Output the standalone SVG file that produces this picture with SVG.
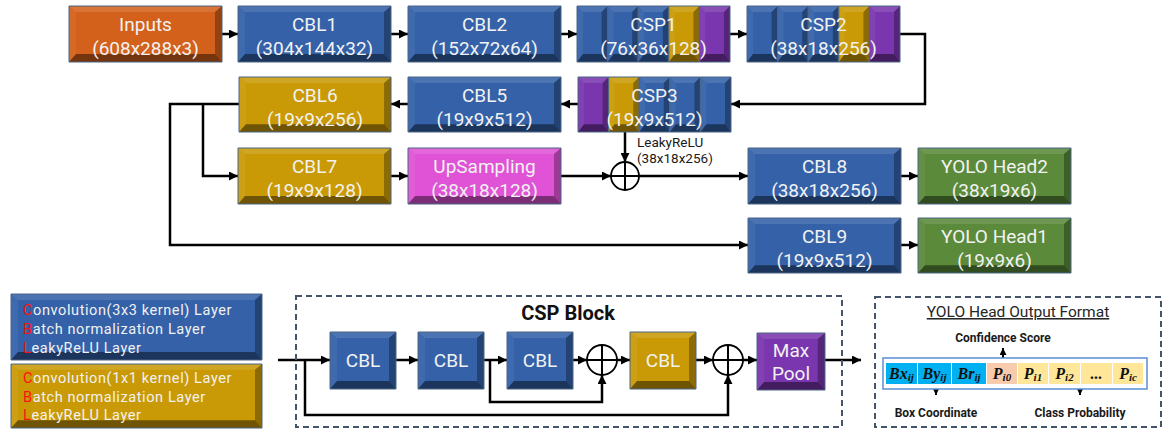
<svg xmlns="http://www.w3.org/2000/svg" width="1164" height="433" viewBox="0 0 1164 433">
<style>
.bt{fill:#fff;fill-opacity:.12}
.bl{fill:#fff;fill-opacity:.06}
.br{fill:#000;fill-opacity:.3}
.bb{fill:#000;fill-opacity:.45}
.bd{fill:none;stroke:#4a6584;stroke-width:1;vector-effect:non-scaling-stroke}
.t{font-family:Roboto,"Noto Sans",sans-serif;font-size:19px;fill:#f2f2f2;text-anchor:middle}
.lg{font-family:Roboto,"Noto Sans",sans-serif;font-size:14.5px;letter-spacing:0.6px;fill:#f2f2f2}
.r{fill:#ff1010}
.sm{font-family:Roboto,"Noto Sans",sans-serif;font-size:13.5px;fill:#1a1a1a}
.bd2{font-family:Roboto,"Noto Sans",sans-serif;font-weight:bold;font-size:12px;fill:#1a1a1a;text-anchor:middle}
.ttl{font-family:Roboto,"Noto Sans",sans-serif;font-weight:bold;font-size:20px;fill:#111;text-anchor:middle}
.yt{font-family:Roboto,"Noto Sans",sans-serif;font-size:15.5px;fill:#262626;text-anchor:middle;text-decoration:underline}
.ct{font-family:"Liberation Serif",serif;font-weight:bold;font-style:italic;font-size:16px;fill:#111;text-anchor:middle}
.cs{font-size:11px}
.ln{fill:none;stroke:#000;stroke-width:2.5}
.ln2{fill:none;stroke:#000;stroke-width:2}
.dash{fill:none;stroke:#44546a;stroke-width:2;stroke-dasharray:6 4}
.cir{fill:#fff;stroke:#000;stroke-width:1.8}
.B{fill:#3461a8}.G{fill:#c99a06}.O{fill:#d3611b}.M{fill:#e053d6}.N{fill:#5a8a3a}.P{fill:#7a36ae}
</style>
<defs>
<marker id="a" markerUnits="userSpaceOnUse" markerWidth="9" markerHeight="9" refX="9" refY="4.5" orient="auto"><path d="M0,0 L9,4.5 L0,9 z" fill="#000"/></marker>
<marker id="as" markerUnits="userSpaceOnUse" markerWidth="7" markerHeight="7" refX="7" refY="3.5" orient="auto"><path d="M0,0 L7,3.5 L0,7 z" fill="#000"/></marker>
<symbol id="bv" viewBox="0 0 153 56" preserveAspectRatio="none" style="overflow:visible">
<rect width="153" height="56"/>
<polygon class="bt" points="0,0 153,0 146,6 7,6"/>
<polygon class="bl" points="0,0 7,6 7,48 0,56"/>
<polygon class="br" points="153,0 153,56 146,48 146,6"/>
<polygon class="bb" points="0,56 7,48 146,48 153,56"/>
<rect class="bd" width="153" height="56"/>
</symbol>
<symbol id="sl" viewBox="0 0 30.6 56" preserveAspectRatio="none" style="overflow:visible">
<rect width="30.6" height="56"/>
<polygon class="bt" points="0,0 30.6,0 24.6,6 6,6"/>
<polygon class="bl" points="0,0 6,6 6,48 0,56"/>
<polygon class="br" points="30.6,0 30.6,56 24.6,48 24.6,6"/>
<polygon class="bb" points="0,56 6,48 24.6,48 30.6,56"/>
<rect class="bd" width="30.6" height="56"/>
</symbol>
<symbol id="bs" viewBox="0 0 66 57" preserveAspectRatio="none" style="overflow:visible">
<rect width="66" height="57"/>
<polygon class="bt" points="0,0 66,0 59,6 7,6"/>
<polygon class="bl" points="0,0 7,6 7,49 0,57"/>
<polygon class="br" points="66,0 66,57 59,49 59,6"/>
<polygon class="bb" points="0,57 7,49 59,49 66,57"/>
<rect class="bd" width="66" height="57"/>
</symbol>
<symbol id="bg" viewBox="0 0 251 66" preserveAspectRatio="none" style="overflow:visible">
<rect width="251" height="66"/>
<polygon class="bt" points="0,0 251,0 244,6 7,6"/>
<polygon class="bl" points="0,0 7,6 7,58 0,66"/>
<polygon class="br" points="251,0 251,66 244,58 244,6"/>
<polygon class="bb" points="0,66 7,58 244,58 251,66"/>
<rect class="bd" width="251" height="66"/>
</symbol>
</defs>
<rect width="1164" height="433" fill="#fff"/>

<g id="connectors">
<path class="ln" marker-end="url(#a)" d="M222,34 H238"/>
<path class="ln" marker-end="url(#a)" d="M391,34 H408"/>
<path class="ln" marker-end="url(#a)" d="M561,34 H577"/>
<path class="ln" marker-end="url(#a)" d="M730,34 H747"/>
<path class="ln" marker-end="url(#a)" d="M900,34 H925 V104 H731"/>
<path class="ln" marker-end="url(#a)" d="M578,104 H561"/>
<path class="ln" marker-end="url(#a)" d="M408,104 H391"/>
<path class="ln" marker-end="url(#a)" d="M239,104 H170 V245 H748"/>
<path class="ln" marker-end="url(#a)" d="M203,104 V176 H238"/>
<path class="ln" marker-end="url(#a)" d="M391,176 H408"/>
<path class="ln" marker-end="url(#a)" d="M561,176 H611"/>
<path class="ln" marker-end="url(#a)" d="M625,132 V162"/>
<path class="ln" marker-end="url(#a)" d="M639,176 H748"/>
<path class="ln" marker-end="url(#a)" d="M901,176 H918"/>
<path class="ln" marker-end="url(#a)" d="M901,245 H918"/>
<circle class="cir" cx="625" cy="176" r="14"/>
<path class="ln2" d="M611,176 H639 M625,162 V190" stroke-width="1.5"/>
<path class="ln" marker-end="url(#a)" d="M278,360 H330"/>
<path class="ln" marker-end="url(#a)" d="M396,360 H418"/>
<path class="ln" marker-end="url(#a)" d="M484,360 H507"/>
<path class="ln" marker-end="url(#a)" d="M573,360 H587"/>
<path class="ln" marker-end="url(#a)" d="M617,360 H630"/>
<path class="ln" marker-end="url(#a)" d="M696,360 H713"/>
<path class="ln" marker-end="url(#a)" d="M743,360 H757"/>
<path class="ln" marker-end="url(#a)" d="M825,360 H861"/>
<path class="ln" marker-end="url(#a)" d="M490,360 V402 H602 V375"/>
<path class="ln" marker-end="url(#a)" d="M305,360 V415 H728 V375"/>
<circle class="cir" cx="602" cy="360" r="15"/>
<path class="ln2" d="M587,360 H617 M602,345 V375" stroke-width="1.5"/>
<circle class="cir" cx="728" cy="360" r="15"/>
<path class="ln2" d="M713,360 H743 M728,345 V375" stroke-width="1.5"/>
<path class="ln2" marker-end="url(#as)" d="M1003,358 V348"/>
<path class="ln2" marker-end="url(#as)" d="M936,383 V395"/>
<path class="ln2" marker-end="url(#as)" d="M1080,383 V395"/>
</g>

<g id="inputs"><use href="#bv" x="69" y="6" width="153" height="56" class="O"/><text class="t" x="145.5" y="31">Inputs</text><text class="t" x="145.5" y="55">(608x288x3)</text></g>
<g id="cbl1"><use href="#bv" x="238" y="6" width="153" height="56" class="B"/><text class="t" x="314.5" y="31">CBL1</text><text class="t" x="314.5" y="55">(304x144x32)</text></g>
<g id="cbl2"><use href="#bv" x="408" y="6" width="153" height="56" class="B"/><text class="t" x="484.5" y="31">CBL2</text><text class="t" x="484.5" y="55">(152x72x64)</text></g>
<g id="csp1">
<use href="#sl" x="577" y="6" width="30.6" height="56" class="B"/>
<use href="#sl" x="607.6" y="6" width="30.6" height="56" class="B"/>
<use href="#sl" x="638.2" y="6" width="30.6" height="56" class="B"/>
<use href="#sl" x="668.8" y="6" width="30.6" height="56" class="G"/>
<use href="#sl" x="699.4" y="6" width="30.6" height="56" class="P"/>
<text class="t" x="653.5" y="31">CSP1</text><text class="t" x="653.5" y="55">(76x36x128)</text></g>
<g id="csp2">
<use href="#sl" x="747" y="6" width="30.6" height="56" class="B"/>
<use href="#sl" x="777.6" y="6" width="30.6" height="56" class="B"/>
<use href="#sl" x="808.2" y="6" width="30.6" height="56" class="B"/>
<use href="#sl" x="838.8" y="6" width="30.6" height="56" class="G"/>
<use href="#sl" x="869.4" y="6" width="30.6" height="56" class="P"/>
<text class="t" x="823.5" y="31">CSP2</text><text class="t" x="823.5" y="55">(38x18x256)</text></g>
<g id="csp3">
<use href="#sl" x="578" y="77" width="30.6" height="55" class="P"/>
<use href="#sl" x="608.6" y="77" width="30.6" height="55" class="G"/>
<use href="#sl" x="639.2" y="77" width="30.6" height="55" class="B"/>
<use href="#sl" x="669.8" y="77" width="30.6" height="55" class="B"/>
<use href="#sl" x="700.4" y="77" width="30.6" height="55" class="B"/>
<text class="t" x="654.5" y="102">CSP3</text><text class="t" x="654.5" y="126">(19x9x512)</text></g>
<g id="cbl5"><use href="#bv" x="408" y="77" width="153" height="55" class="B"/><text class="t" x="484.5" y="102">CBL5</text><text class="t" x="484.5" y="126">(19x9x512)</text></g>
<g id="cbl6"><use href="#bv" x="239" y="77" width="152" height="55" class="G"/><text class="t" x="315" y="102">CBL6</text><text class="t" x="315" y="126">(19x9x256)</text></g>
<g id="cbl7"><use href="#bv" x="238" y="148" width="153" height="56" class="G"/><text class="t" x="314.5" y="173">CBL7</text><text class="t" x="314.5" y="197">(19x9x128)</text></g>
<g id="upsampling"><use href="#bv" x="408" y="148" width="153" height="56" class="M"/><text class="t" x="484.5" y="173">UpSampling</text><text class="t" x="484.5" y="197">(38x18x128)</text></g>
<g id="leaky-label"><text class="sm" x="637" y="147">LeakyReLU</text><text class="sm" x="637" y="163">(38x18x256)</text></g>
<g id="cbl8"><use href="#bv" x="748" y="148" width="153" height="56" class="B"/><text class="t" x="824.5" y="173">CBL8</text><text class="t" x="824.5" y="197">(38x18x256)</text></g>
<g id="yolo-head2"><use href="#bv" x="918" y="148" width="153" height="56" class="N"/><text class="t" x="994.5" y="173">YOLO Head2</text><text class="t" x="994.5" y="197">(38x19x6)</text></g>
<g id="cbl9"><use href="#bv" x="748" y="218" width="153" height="55" class="B"/><text class="t" x="824.5" y="243">CBL9</text><text class="t" x="824.5" y="267">(19x9x512)</text></g>
<g id="yolo-head1"><use href="#bv" x="918" y="218" width="153" height="55" class="N"/><text class="t" x="994.5" y="243">YOLO Head1</text><text class="t" x="994.5" y="267">(19x9x6)</text></g>

<g id="legend-cbl3x3"><use href="#bg" x="11" y="294" width="251" height="66" class="B"/>
<text class="lg" x="23" y="315"><tspan class="r">C</tspan>onvolution(3x3 kernel) Layer</text>
<text class="lg" x="23" y="334"><tspan class="r">B</tspan>atch normalization Layer</text>
<text class="lg" x="23" y="353"><tspan class="r">L</tspan>eakyReLU Layer</text></g>
<g id="legend-cbl1x1"><use href="#bg" x="11" y="364" width="251" height="64" class="G"/>
<text class="lg" x="23" y="383"><tspan class="r">C</tspan>onvolution(1x1 kernel) Layer</text>
<text class="lg" x="23" y="402"><tspan class="r">B</tspan>atch normalization Layer</text>
<text class="lg" x="23" y="420"><tspan class="r">L</tspan>eakyReLU Layer</text></g>

<g id="csp-block">
<rect class="dash" x="296" y="296" width="546" height="131"/>
<text class="ttl" x="568" y="320">CSP Block</text>
</g>
<g id="csp-cbl-a"><use href="#bs" x="330" y="332" width="66" height="57" class="B"/><text class="t" x="363" y="367">CBL</text></g>
<g id="csp-cbl-b"><use href="#bs" x="418" y="332" width="66" height="57" class="B"/><text class="t" x="451" y="367">CBL</text></g>
<g id="csp-cbl-c"><use href="#bs" x="507" y="332" width="66" height="57" class="B"/><text class="t" x="540" y="367">CBL</text></g>
<g id="csp-cbl-d"><use href="#bs" x="630" y="332" width="66" height="57" class="G"/><text class="t" x="663" y="367">CBL</text></g>
<g id="csp-maxpool"><use href="#bs" x="757" y="333" width="68" height="57" class="P"/><text class="t" x="791" y="357">Max</text><text class="t" x="791" y="380">Pool</text></g>

<g id="yolo-format">
<rect class="dash" x="875" y="297" width="286" height="130"/>
<text class="yt" x="1018" y="317">YOLO Head Output Format</text>
<text class="bd2" x="1003" y="342">Confidence Score</text>
<rect x="883" y="358" width="264" height="31" fill="#fff" stroke="#5b8fd5" stroke-width="1.5"/>
<rect x="886" y="363" width="31" height="21" fill="#00b0f0"/>
<rect x="918" y="363" width="33" height="21" fill="#00b0f0"/>
<rect x="952" y="363" width="34" height="21" fill="#00b0f0"/>
<rect x="987" y="363" width="30" height="21" fill="#f8cbad"/>
<rect x="1018" y="363" width="30" height="21" fill="#ffe699"/>
<rect x="1049" y="363" width="31" height="21" fill="#ffe699"/>
<rect x="1081" y="363" width="31" height="21" fill="#ffe699"/>
<rect x="1113" y="363" width="30" height="21" fill="#ffe699"/>
<text class="ct" x="901.5" y="379">Bx<tspan class="cs" dy="2">ij</tspan></text>
<text class="ct" x="934.5" y="379">By<tspan class="cs" dy="2">ij</tspan></text>
<text class="ct" x="969" y="379">Br<tspan class="cs" dy="2">ij</tspan></text>
<text class="ct" x="1002" y="379">P<tspan class="cs" dy="2">i0</tspan></text>
<text class="ct" x="1033" y="379">P<tspan class="cs" dy="2">i1</tspan></text>
<text class="ct" x="1064.5" y="379">P<tspan class="cs" dy="2">i2</tspan></text>
<text class="ct" x="1096.5" y="379">...</text>
<text class="ct" x="1128" y="379">P<tspan class="cs" dy="2">ic</tspan></text>
<text class="bd2" x="936" y="417">Box Coordinate</text>
<text class="bd2" x="1080" y="417">Class Probability</text>
</g>
</svg>
